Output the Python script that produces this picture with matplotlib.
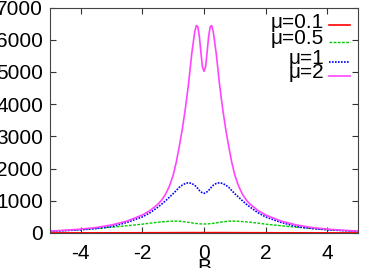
import matplotlib
matplotlib.use("Agg")
import matplotlib.pyplot as plt
from matplotlib.lines import Line2D

plt.rcParams['font.family'] = ['Liberation Sans', 'DejaVu Sans']
plt.rcParams['axes.unicode_minus'] = False

B = [-5, -4.5, -4, -3.5, -3, -2.5, -2, -1.75, -1.5, -1.375, -1.25, -1.125, -1, -0.9, -0.8, -0.7, -0.6,
     -0.5, -0.4, -0.3, -0.25, -0.2, -0.15, -0.1, -0.05, 0, 0.05, 0.1, 0.15, 0.2, 0.25,
     0.3, 0.4, 0.5, 0.6, 0.7, 0.8, 0.9, 1, 1.125, 1.25, 1.375, 1.5, 1.75, 2, 2.5, 3, 3.5, 4, 4.5, 5]

mu_01 = [3, 3, 4, 4, 5, 6, 7, 8, 8, 9, 9, 9, 10, 10, 10, 11, 11,
         11, 11, 11, 11, 11, 11, 11, 11, 11, 11, 11, 11, 11, 11,
         11, 11, 11, 11, 11, 10, 10, 10, 9, 9, 9, 8, 8, 7, 6, 5, 4, 4, 3, 3]

mu_05 = [55, 75, 105, 140, 180, 225, 275, 305, 335, 345, 355, 363, 370, 370, 365, 355, 345,
         330, 315, 300, 295, 290, 285, 282, 280, 280, 280, 282, 285, 290, 295,
         300, 315, 330, 345, 355, 365, 370, 370, 363, 355, 345, 335, 305, 275, 225, 180, 140, 105, 75, 55]

mu_1 = [55, 75, 100, 140, 200, 330, 500, 630, 800, 895, 1000, 1110, 1220, 1320, 1420, 1490, 1540,
        1560, 1540, 1480, 1430, 1380, 1320, 1280, 1245, 1230, 1245, 1280, 1320, 1380, 1430,
        1480, 1540, 1560, 1540, 1490, 1420, 1320, 1220, 1110, 1000, 895, 800, 630, 500, 330, 200, 140, 100, 75, 55]

mu_2 = [60, 85, 120, 170, 250, 370, 560, 700, 890, 1020, 1200, 1450, 1800, 2200, 2700, 3250, 3900,
        4650, 5550, 6250, 6440, 6400, 6100, 5600, 5150, 5020, 5150, 5600, 6100, 6400, 6440,
        6250, 5550, 4650, 3900, 3250, 2700, 2200, 1800, 1450, 1200, 1020, 890, 700, 560, 370, 250, 170, 120, 85, 60]

labels = ['μ=0.1', 'μ=0.5', 'μ=1', 'μ=2']
xticks = [-4, -2, 0, 2, 4]
yticks = [0, 1000, 2000, 3000, 4000, 5000, 6000, 7000]

fig = plt.figure(figsize=(3.74, 2.68), dpi=100)
ax = fig.add_axes([50/374, (268-233)/268, (358-50)/374, (233-7.5)/268])

styles = [dict(color='#ff0000', ls='-', lw=1.2),
          dict(color='#00cc00', ls=(0, (2, 1)), lw=1.0),
          dict(color='#0000ff', ls=(0, (1, 0.8)), lw=1.2),
          dict(color='#ff44ff', ls='-', lw=1.2)]
series = [mu_01, mu_05, mu_1, mu_2]
for s, st in zip(series, styles):
    ax.plot(B, s, **st)

ax.set_xlim(-5, 5)
ax.set_ylim(0, 7000)
ax.set_xticks(xticks)
ax.set_yticks(yticks)
ax.tick_params(direction='in', top=True, right=True, length=4, width=0.8,
               labelsize=15, pad=5, color='#333333')
ax.tick_params(axis='x', pad=8)
for sp in ax.spines.values():
    sp.set_linewidth(0.8)
    sp.set_color('#444444')
ax.set_xlabel('B', fontsize=15, labelpad=-4)

# legend (manual, gnuplot style)
leg_y = [22, 39, 59, 73]
for lab, st, yp in zip(labels, styles, leg_y):
    yf = 1 - (yp - 7.5) / (233 - 7.5)
    x_text = (324 - 50) / 308
    ax.text(x_text, yf, lab, transform=ax.transAxes, ha='right', va='center',
            fontsize=15)
    ax.add_line(Line2D([(329 - 50) / 308, (350 - 50) / 308], [yf - 0.012, yf - 0.012],
                       transform=ax.transAxes, **st))

fig.savefig('out.png', dpi=100)
